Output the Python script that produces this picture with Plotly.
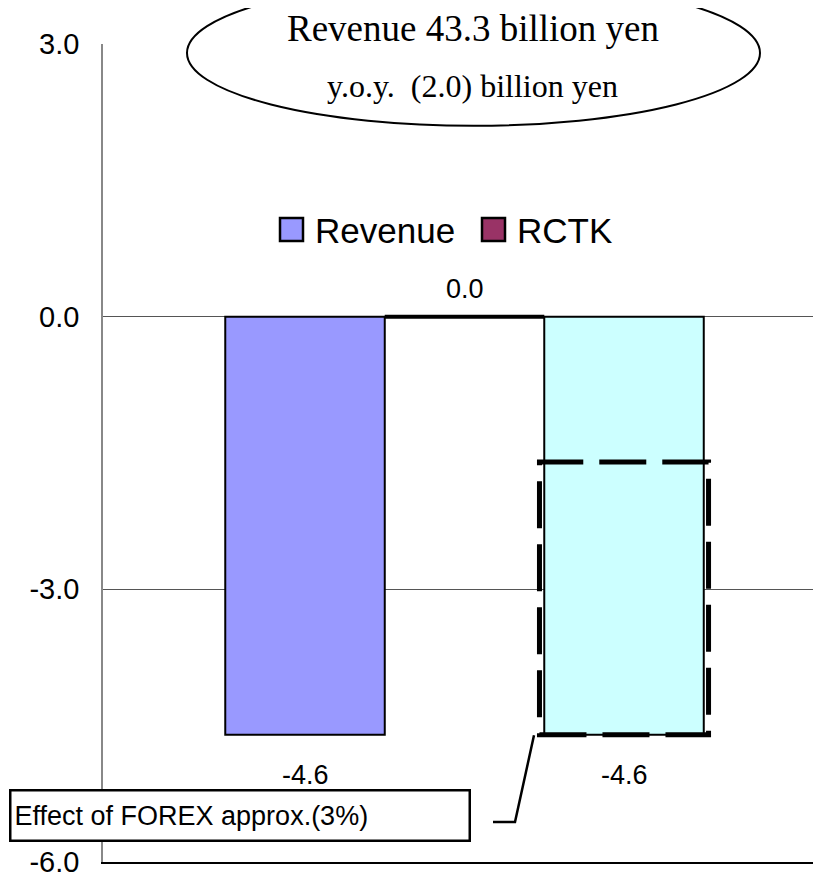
"""
Revenue y.o.y. change chart with FOREX effect callout.
"""

import plotly.graph_objects as go

# data
bar_pos = [1, 2, 3]
bar_values = [-4.6, 0.0, -4.6]
bar_names = ['Revenue', 'RCTK', 'Revenue (current)']
bar_colors = ['#9999FF', '#993366', '#CCFFFF']
show_in_legend = [True, True, False]
forex_effect = -3.0

y_ticks = [3.0, 0.0, -3.0, -6.0]
y_ticktext = ['3.0', '0.0', '-3.0', '-6.0']

title_line1 = 'Revenue 43.3 billion yen'
title_line2 = 'y.o.y.  (2.0) billion yen'
forex_text = 'Effect of FOREX approx.(3%)'

# layout settings (pixels, page coords; the page body has an 8px margin)
OFF = 8
W, H = 821 - OFF, 878 - OFF
ML, MR, MT, MB = 103 - OFF, 0, 44 - OFF, 14
PW, PH = W - ML - MR, H - MT - MB
sans = 'Liberation Sans, Arial, sans-serif'
serif = 'Liberation Serif, Times New Roman, serif'
legend_x = [280, 482]   # left edge of each legend swatch
legend_y = 230
swatch = 23


def px_x(px):
    return (px - OFF - ML) / PW


def px_y(py):
    return (H - MB - (py - OFF)) / PH


fig = go.Figure()

for pos, val, name, col in zip(bar_pos, bar_values, bar_names, bar_colors):
    fig.add_trace(go.Bar(
        x=[pos], y=[val], width=1, name=name, showlegend=False,
        marker=dict(color=col, line=dict(color='black', width=2)),
    ))
    # zero-height bar shows as a thick line
    if val == 0:
        fig.add_trace(go.Scatter(
            x=[pos - 0.5, pos + 0.5], y=[val, val], mode='lines',
            line=dict(color='black', width=4), showlegend=False,
            hoverinfo='skip',
        ))
    fig.add_annotation(
        x=pos, y=val, text=f'{val:.1f}', showarrow=False,
        yshift=-40 if val < 0 else 28,
        font=dict(family=sans, size=27, color='black'),
    )

# legend drawn by hand so the swatches match the original size
legend_items = [(n, c) for n, c, s in zip(bar_names, bar_colors, show_in_legend) if s]
for (name, col), lx in zip(legend_items, legend_x):
    fig.add_shape(
        type='rect', xref='paper', yref='paper',
        x0=px_x(lx), x1=px_x(lx + swatch),
        y0=px_y(legend_y + swatch / 2), y1=px_y(legend_y - swatch / 2),
        fillcolor=col, line=dict(color='black', width=2.5),
    )
    fig.add_annotation(
        xref='paper', yref='paper', x=px_x(lx + swatch + 10), y=px_y(legend_y + 1),
        xanchor='left', yanchor='middle', text=name, showarrow=False,
        font=dict(family=sans, size=35, color='black'),
    )

# FOREX effect region on the last bar
fig.add_shape(
    type='rect', xref='x', yref='y',
    x0=bar_pos[-1] - 0.53, x1=bar_pos[-1] + 0.53,
    y0=bar_values[-1], y1=bar_values[-1] - forex_effect,
    line=dict(color='black', width=5, dash='47px,16px'),
    layer='above',
)

# leader line to the callout box
fig.add_shape(
    type='path', xref='paper', yref='paper',
    path=f'M {px_x(493)},{px_y(824)} L {px_x(515)},{px_y(824)} '
         f'L {px_x(534)},{px_y(737)}',
    line=dict(color='black', width=2.5),
)
fig.add_annotation(
    xref='paper', yref='paper', x=px_x(9), y=px_y(817),
    xanchor='left', yanchor='middle', text=forex_text, showarrow=False,
    align='left', width=451, height=42, borderpad=3,
    bordercolor='black', borderwidth=2.5, bgcolor='white',
    font=dict(family=sans, size=27, color='black'),
)

# headline ellipse
fig.add_shape(
    type='circle', xref='paper', yref='paper',
    x0=px_x(187), x1=px_x(760), y0=px_y(126), y1=px_y(-20),
    line=dict(color='black', width=2), fillcolor='white', layer='above',
)
fig.add_annotation(
    xref='paper', yref='paper', x=px_x(473), y=px_y(28),
    xanchor='center', yanchor='middle',
    text=title_line1, showarrow=False,
    font=dict(family=serif, size=37, color='black'),
)
fig.add_annotation(
    xref='paper', yref='paper', x=px_x(472), y=px_y(86),
    xanchor='center', yanchor='middle',
    text=title_line2, showarrow=False,
    font=dict(family=serif, size=32, color='black'),
)

fig.update_layout(
    width=W, height=H,
    margin=dict(l=ML, r=MR, t=MT, b=MB),
    plot_bgcolor='white', paper_bgcolor='white',
    barmode='overlay',
    showlegend=False,
    xaxis=dict(
        range=[-0.2665, -0.2665 + PW / 159.5],
        showticklabels=False, ticks='', showgrid=False, zeroline=False,
        showline=True, linecolor='black', linewidth=1.5,
    ),
    yaxis=dict(
        range=[-6, 3], tickvals=y_ticks, ticktext=y_ticktext,
        showgrid=True, gridcolor='#555555', gridwidth=1, zeroline=False,
        showline=True, linecolor='#888888', linewidth=1.5,
        ticks='', ticklabelstandoff=16, ticklabeloverflow='allow',
        tickfont=dict(family=sans, size=29, color='black'),
    ),
)

fig.write_html('out.html')
